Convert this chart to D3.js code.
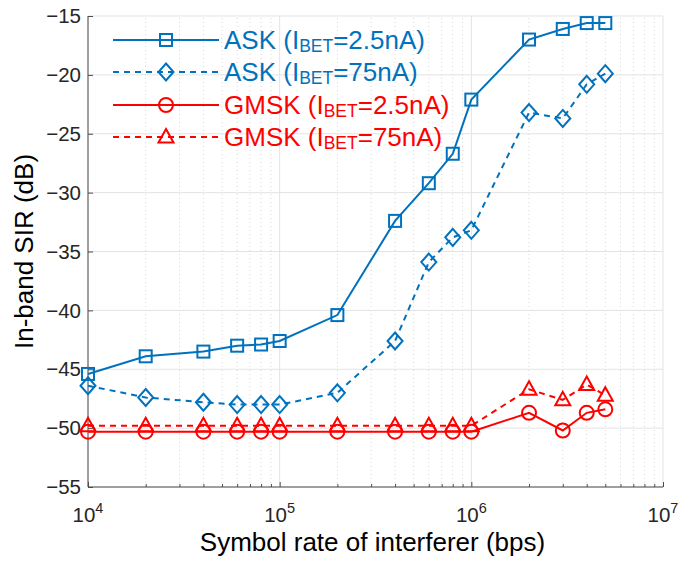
<!DOCTYPE html>
<html>
<head>
<meta charset="utf-8">
<script src="https://cdn.jsdelivr.net/npm/d3@7"></script>
<style>
  html, body { margin: 0; padding: 0; background: #fff; }
  svg { display: block; font-family: Arial, "Liberation Sans", Helvetica, sans-serif; }
</style>
</head>
<body>
<svg id="chart" width="681" height="563"></svg>
<script>
// Symbol rates of the interferer (bps)
const symbolRates = [1e4, 2e4, 4e4, 6e4, 8e4, 1e5, 2e5, 4e5, 6e5, 8e5, 1e6, 2e6, 3e6, 4e6, 5e6];

// In-band SIR (dB) for each modulation / bias current
const askLow   = [-45.4, -43.9, -43.5, -43.0, -42.9, -42.6, -40.4, -32.4, -29.2, -26.7, -22.1, -17.0, -16.1, -15.6, -15.6];
const askHigh  = [-46.4, -47.4, -47.8, -48.0, -48.0, -48.0, -47.0, -42.6, -35.9, -33.8, -33.2, -23.2, -23.7, -20.8, -19.9];
const gmskLow  = [-50.3, -50.3, -50.3, -50.3, -50.3, -50.3, -50.3, -50.3, -50.3, -50.3, -50.3, -48.7, -50.2, -48.7, -48.4];
const gmskHigh = [-49.8, -49.8, -49.8, -49.8, -49.8, -49.8, -49.8, -49.8, -49.8, -49.8, -49.8, -46.7, -47.6, -46.3, -47.2];

const xTickValues = [1e4, 1e5, 1e6, 1e7];
const yTickValues = [-55, -50, -45, -40, -35, -30, -25, -20, -15];

const seriesList = [
  { main: "ASK",  sub: "BET", rest: "=2.5nA)", values: askLow,   color: "#0072BD", dash: null,  marker: "square" },
  { main: "ASK",  sub: "BET", rest: "=75nA)",  values: askHigh,  color: "#0072BD", dash: "6,5", marker: "diamond" },
  { main: "GMSK", sub: "BET", rest: "=2.5nA)", values: gmskLow,  color: "#FF0000", dash: null,  marker: "circle" },
  { main: "GMSK", sub: "BET", rest: "=75nA)",  values: gmskHigh, color: "#FF0000", dash: "6,5", marker: "triangle" }
];

const svg = d3.select("#chart");
const margin = { left: 88, right: 18, top: 16, bottom: 76 };
const W = 681, H = 563;

const x = d3.scaleLog().domain([1e4, 1e7]).range([margin.left, W - margin.right]);
const y = d3.scaleLinear().domain([-55, -15]).range([H - margin.bottom, margin.top]);

const x0 = x.range()[0], x1 = x.range()[1];
const y0 = y.range()[0], y1 = y.range()[1];

// Minor grid (log decades)
const minorX = [];
for (let d = 1e4; d < 1e7; d *= 10) for (let k = 2; k <= 9; k++) minorX.push(d * k);

const grid = svg.append("g");
grid.selectAll("line.minor").data(minorX).enter().append("line")
  .attr("x1", d => x(d)).attr("x2", d => x(d)).attr("y1", y0).attr("y2", y1)
  .attr("stroke", "#d6d6d6").attr("stroke-width", 1).attr("stroke-dasharray", "1,3");
grid.selectAll("line.mx").data(xTickValues).enter().append("line")
  .attr("x1", d => x(d)).attr("x2", d => x(d)).attr("y1", y0).attr("y2", y1)
  .attr("stroke", "#e3e3e3").attr("stroke-width", 1);
grid.selectAll("line.my").data(yTickValues).enter().append("line")
  .attr("x1", x0).attr("x2", x1).attr("y1", d => y(d)).attr("y2", d => y(d))
  .attr("stroke", "#e3e3e3").attr("stroke-width", 1);

// Axes
const axisColor = "#262626";
const xAxis = svg.append("g").attr("transform", `translate(0,${y0})`)
  .call(d3.axisBottom(x).tickValues(xTickValues).tickSize(-5).tickFormat(""));
xAxis.select(".domain").attr("stroke", "#4d4d4d").attr("d", `M${x0},0H${x1}`);
xAxis.selectAll(".tick line").attr("stroke", "#4d4d4d");
const xMinorAxis = svg.append("g").attr("transform", `translate(0,${y0})`)
  .call(d3.axisBottom(x).tickValues(minorX).tickSize(-3).tickFormat(""));
xMinorAxis.select(".domain").remove();
xMinorAxis.selectAll(".tick line").attr("stroke", "#4d4d4d");

const yAxis = svg.append("g").attr("transform", `translate(${x0},0)`)
  .call(d3.axisLeft(y).tickValues(yTickValues).tickSize(-5).tickFormat(""));
yAxis.select(".domain").attr("stroke", "#4d4d4d").attr("d", `M0,${y0}V${y1}`);
yAxis.selectAll(".tick line").attr("stroke", "#4d4d4d");

// Y tick labels
svg.append("g").selectAll("text").data(yTickValues).enter().append("text")
  .attr("x", x0 - 7).attr("y", d => y(d)).attr("dy", "0.35em")
  .attr("text-anchor", "end").attr("font-size", 20.5).attr("fill", axisColor)
  .text(d => d3.format("d")(d));

// X tick labels: 10 with superscript exponent
const xl = svg.append("g").selectAll("text").data(xTickValues).enter().append("text")
  .attr("x", d => x(d)).attr("y", y0 + 35)
  .attr("text-anchor", "middle").attr("font-size", 20.5).attr("fill", axisColor);
xl.append("tspan").text("10");
xl.append("tspan").attr("dy", -9).attr("font-size", 14.5).text(d => Math.round(Math.log10(d)));

// Axis titles
svg.append("text").attr("x", (x0 + x1) / 2 - 3).attr("y", 551)
  .attr("text-anchor", "middle").attr("font-size", 26).attr("fill", "#000")
  .text("Symbol rate of interferer (bps)");
svg.append("text").attr("transform", `translate(33,${(y0 + y1) / 2}) rotate(-90)`)
  .attr("text-anchor", "middle").attr("font-size", 26).attr("fill", "#000")
  .text("In-band SIR (dB)");

// Marker drawing
function drawMarker(g, type, color) {
  if (type === "square") {
    g.append("rect").attr("x", -6).attr("y", -6).attr("width", 12).attr("height", 12);
  } else if (type === "diamond") {
    g.append("path").attr("d", "M0,-8.5L7.5,0L0,8.5L-7.5,0Z");
  } else if (type === "circle") {
    g.append("circle").attr("r", 7);
  } else if (type === "triangle") {
    g.append("path").attr("d", "M0,-8L7.5,5.5L-7.5,5.5Z");
  }
  g.selectAll("*").attr("fill", "none").attr("stroke", color).attr("stroke-width", 2);
}

const line = d3.line().x(d => x(d[0])).y(d => y(d[1]));

// Draw from last to first so ASK sits on top
const plot = svg.append("g");
seriesList.slice().reverse().forEach(s => {
  const pts = symbolRates.map((r, i) => [r, s.values[i]]);
  plot.append("path").datum(pts).attr("d", line)
    .attr("fill", "none").attr("stroke", s.color).attr("stroke-width", 2)
    .attr("stroke-dasharray", s.dash);
  pts.forEach(p => {
    const g = plot.append("g").attr("transform", `translate(${x(p[0])},${y(p[1])})`);
    drawMarker(g, s.marker, s.color);
  });
});

// Legend
const legend = svg.append("g");
const legendRows = [40, 72, 105, 137];
seriesList.forEach((s, i) => {
  const ly = legendRows[i];
  legend.append("line").attr("x1", 113).attr("x2", 219).attr("y1", ly).attr("y2", ly)
    .attr("stroke", s.color).attr("stroke-width", 2).attr("stroke-dasharray", s.dash);
  const g = legend.append("g").attr("transform", `translate(166,${ly})`);
  drawMarker(g, s.marker, s.color);
  const t = legend.append("text").attr("x", 224).attr("y", ly + 9)
    .attr("font-size", 26).attr("fill", s.color);
  t.append("tspan").text(s.main + " (I");
  t.append("tspan").attr("font-size", 17.5).attr("dy", 3).text(s.sub);
  t.append("tspan").attr("dy", -3).text(s.rest);
});
</script>
</body>
</html>
